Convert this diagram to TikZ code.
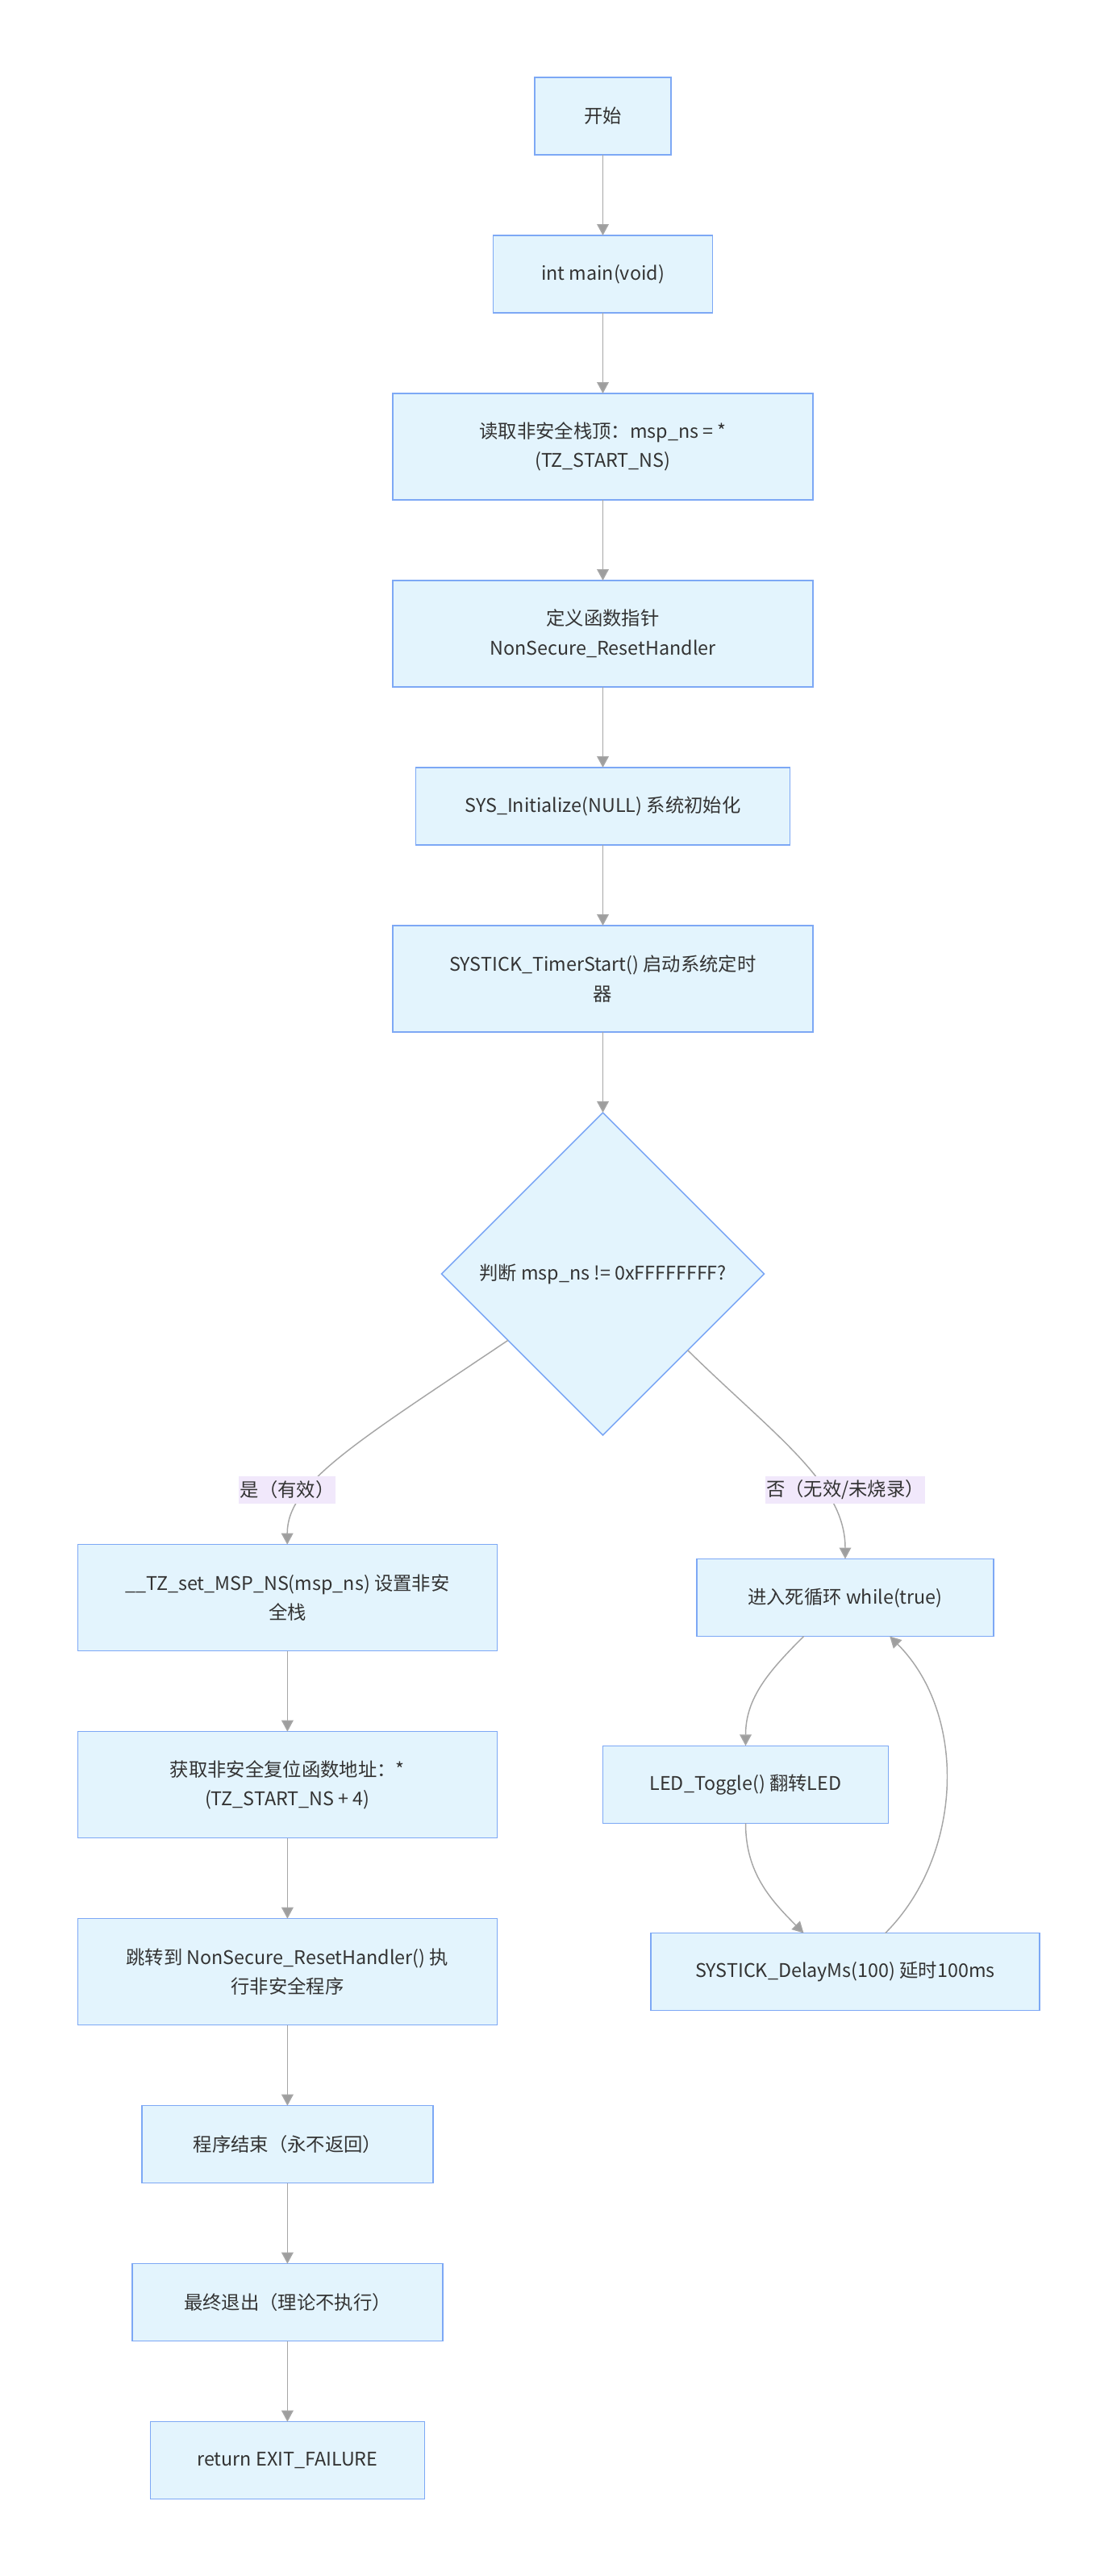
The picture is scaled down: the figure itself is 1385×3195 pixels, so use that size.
\documentclass[tikz,border=0pt]{standalone}
\usepackage{fontspec}
\setmainfont{Noto Sans CJK SC}
\usetikzlibrary{arrows.meta,positioning,shapes.geometric}
\definecolor{boxfill}{HTML}{E3F4FD}
\definecolor{boxline}{HTML}{7DA8F5}
\definecolor{lblfill}{HTML}{F1E8FB}
\definecolor{edgegray}{HTML}{A6A6A6}
\definecolor{arrowgray}{HTML}{9E9E9E}
\definecolor{textgray}{HTML}{333333}

\begin{document}
\begin{tikzpicture}[x=0.75pt, y=-0.75pt,
    box/.style={draw=boxline, line width=1.1pt, fill=boxfill, text=textgray, outer sep=0pt,
                font=\fontsize{17.5pt}{27.5pt}\selectfont, align=center, minimum height=72pt},
    tall/.style={box, minimum height=99pt},
    decision/.style={box, diamond, aspect=1, minimum width=300pt, minimum height=300pt, inner sep=0pt},
    lbl/.style={fill=lblfill, text=textgray, font=\fontsize{17.5pt}{27.5pt}\selectfont,
                inner xsep=1pt, inner ysep=0pt, minimum height=26pt},
    arr/.style={-{Triangle[length=10.5pt, width=11pt, fill=arrowgray]}, draw=edgegray, line width=1.1pt}
  ]
    \useasboundingbox (0,0) rectangle (1385,3195);

    \node[box, minimum width=126.75pt] (start) at (747.5,144) {开始};
    \node[box, minimum width=204pt, below=75pt of start] (main) {int main(void)};
    \node[tall, minimum width=390.75pt, below=75pt of main] (readmsp) {读取非安全栈顶：msp\_ns = *\\(TZ\_START\_NS)};
    \node[tall, minimum width=390.75pt, below=75pt of readmsp] (fptr) {定义函数指针\\NonSecure\_ResetHandler};
    \node[box, minimum width=348pt, below=75pt of fptr] (sysinit) {SYS\_Initialize(NULL) 系统初始化};
    \node[tall, minimum width=390.75pt, below=75pt of sysinit] (tick) {SYSTICK\_TimerStart() 启动系统定时\\器};
    \node[decision, below=75pt of tick] (check) {判断 msp\_ns != 0xFFFFFFFF?};

    \node[tall, minimum width=390pt] (setmsp) at (356.4,1981.7) {\_\_TZ\_set\_MSP\_NS(msp\_ns) 设置非安\\全栈};
    \node[tall, minimum width=390pt, below=75pt of setmsp] (getrst) {获取非安全复位函数地址：*\\(TZ\_START\_NS + 4)};
    \node[tall, minimum width=390pt, below=75pt of getrst] (jump) {跳转到 NonSecure\_ResetHandler() 执\\行非安全程序};
    \node[box, minimum width=270.75pt, below=75pt of jump] (never) {程序结束（永不返回）};
    \node[box, minimum width=288.75pt, below=75pt of never] (quit) {最终退出（理论不执行）};
    \node[box, minimum width=255pt, below=75pt of quit] (ret) {return EXIT\_FAILURE};

    \node[box, minimum width=276pt] (loop) at (1048,1981.5) {进入死循环 while(true)};
    \node[box, minimum width=265.5pt] (led) at (924.5,2213.3) {LED\_Toggle() 翻转LED};
    \node[box, minimum width=361.5pt] (delay) at (1048,2445.6) {SYSTICK\_DelayMs(100) 延时100ms};

    \draw[arr] (start) -- (main);
    \draw[arr] (main) -- (readmsp);
    \draw[arr] (readmsp) -- (fptr);
    \draw[arr] (fptr) -- (sysinit);
    \draw[arr] (sysinit) -- (tick);
    \draw[arr] (tick) -- (check);
    \draw[arr] (check.215) .. controls (440,1790) and (356,1840) .. (setmsp);
    \draw[arr] (check.318) .. controls (960,1780) and (1048,1840) .. (loop);
    \draw[arr] (setmsp) -- (getrst);
    \draw[arr] (getrst) -- (jump);
    \draw[arr] (jump) -- (never);
    \draw[arr] (never) -- (quit);
    \draw[arr] (quit) -- (ret);
    \draw[arr] (loop.223) to[out=225, in=90] (led);
    \draw[arr] (led) to[out=-90, in=135] (delay.137);
    \draw[arr] (delay.44) to[out=45, in=-45, looseness=0.95] (loop.319);

    \node[lbl] (yes) at (356,1848) {是（有效）};
    \node[lbl] (no) at (1048,1848) {否（无效/未烧录）};
  \end{tikzpicture}
\end{document}
